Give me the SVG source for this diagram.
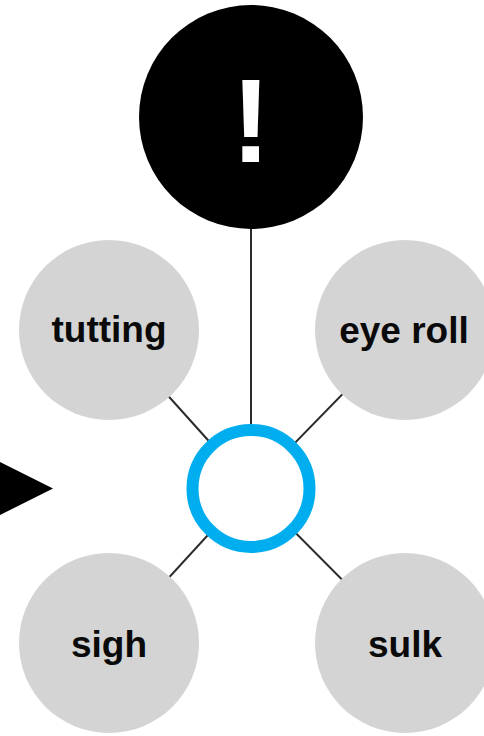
<svg xmlns="http://www.w3.org/2000/svg" width="484" height="736" viewBox="0 0 484 736">
  <style>
    .link { stroke: #2b2b2b; stroke-width: 2; fill: none; }
    .bubble { fill: #d4d4d4; }
    .label { font-family: "Liberation Sans", Arial, Helvetica, sans-serif; font-weight: bold; font-size: 37px; fill: #0a0a0a; text-anchor: middle; }
  </style>
  <rect width="484" height="736" fill="#ffffff"/>

  <!-- connectors from the hub to each bubble -->
  <g id="connectors">
    <line class="link" x1="251" y1="117" x2="251" y2="488"/>
    <line class="link" x1="109" y1="330" x2="251" y2="488"/>
    <line class="link" x1="405" y1="330" x2="251" y2="488"/>
    <line class="link" x1="109" y1="643" x2="251" y2="488"/>
    <line class="link" x1="405" y1="643" x2="251" y2="488"/>
  </g>

  <g id="alert">
    <circle cx="251" cy="117" r="112" fill="#000"/>
    <text x="251" y="162" font-family="Liberation Sans, Arial, sans-serif" font-weight="bold" font-size="118" fill="#fff" text-anchor="middle">!</text>
  </g>

  <g id="tutting">
    <circle class="bubble" cx="109" cy="330" r="90"/>
    <text class="label" x="109" y="342">tutting</text>
  </g>

  <g id="eye-roll">
    <circle class="bubble" cx="405" cy="330" r="90"/>
    <text class="label" x="404" y="343">eye roll</text>
  </g>

  <g id="sigh">
    <circle class="bubble" cx="109" cy="643" r="90"/>
    <text class="label" x="109" y="657">sigh</text>
  </g>

  <g id="sulk">
    <circle class="bubble" cx="405" cy="643" r="90"/>
    <text class="label" x="405" y="657">sulk</text>
  </g>

  <g id="hub">
    <circle cx="251" cy="488.5" r="58.5" fill="#fff" stroke="#00aeef" stroke-width="12"/>
  </g>

  <g id="pointer">
    <polygon points="0,462 53,488.5 0,515" fill="#000"/>
  </g>
</svg>
